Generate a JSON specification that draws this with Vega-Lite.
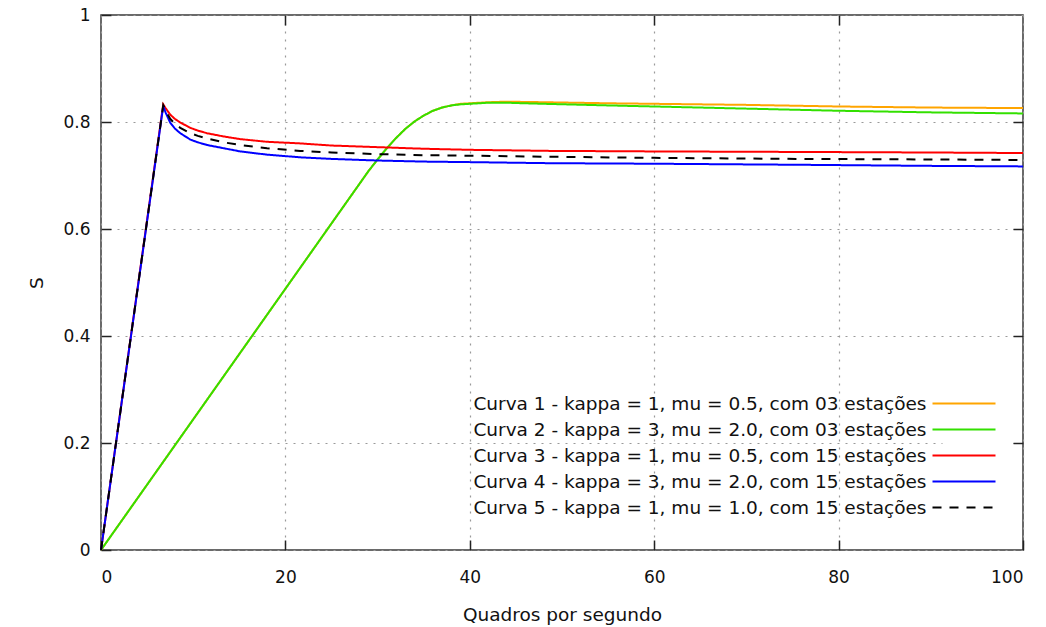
{
 "$schema": "https://vega.github.io/schema/vega-lite/v6.json",
 "width": 922,
 "height": 535,
 "autosize": {"type": "none"},
 "padding": {"left": 101, "top": 15, "right": 23, "bottom": 77},
 "background": "white",
 "config": {
  "font": "DejaVu Sans",
  "view": {"stroke": "#3a3a3a", "strokeWidth": 1.5},
  "axis": {"domain": false, "tickColor": "#222222", "tickWidth": 1.5, "tickSize": -10, "labelColor": "#111111", "titleColor": "#111111", "titleFontWeight": "normal", "labelFontSize": 17, "titleFontSize": 18.5, "gridColor": "#9a9a9a", "gridDash": [2, 6], "gridWidth": 1.2}
 },
 "data": {"values": [
  {"serie": "Curva 1 - kappa = 1, mu = 0.5, com 03 estações", "fps": 0, "S": 0},
  {"serie": "Curva 1 - kappa = 1, mu = 0.5, com 03 estações", "fps": 29, "S": 0.708},
  {"serie": "Curva 1 - kappa = 1, mu = 0.5, com 03 estações", "fps": 30, "S": 0.730},
  {"serie": "Curva 1 - kappa = 1, mu = 0.5, com 03 estações", "fps": 31, "S": 0.751},
  {"serie": "Curva 1 - kappa = 1, mu = 0.5, com 03 estações", "fps": 32, "S": 0.770},
  {"serie": "Curva 1 - kappa = 1, mu = 0.5, com 03 estações", "fps": 33, "S": 0.787},
  {"serie": "Curva 1 - kappa = 1, mu = 0.5, com 03 estações", "fps": 34, "S": 0.801},
  {"serie": "Curva 1 - kappa = 1, mu = 0.5, com 03 estações", "fps": 35, "S": 0.812},
  {"serie": "Curva 1 - kappa = 1, mu = 0.5, com 03 estações", "fps": 36, "S": 0.821},
  {"serie": "Curva 1 - kappa = 1, mu = 0.5, com 03 estações", "fps": 37, "S": 0.827},
  {"serie": "Curva 1 - kappa = 1, mu = 0.5, com 03 estações", "fps": 38, "S": 0.831},
  {"serie": "Curva 1 - kappa = 1, mu = 0.5, com 03 estações", "fps": 39, "S": 0.834},
  {"serie": "Curva 1 - kappa = 1, mu = 0.5, com 03 estações", "fps": 40, "S": 0.835},
  {"serie": "Curva 1 - kappa = 1, mu = 0.5, com 03 estações", "fps": 42, "S": 0.837},
  {"serie": "Curva 1 - kappa = 1, mu = 0.5, com 03 estações", "fps": 44, "S": 0.838},
  {"serie": "Curva 1 - kappa = 1, mu = 0.5, com 03 estações", "fps": 48, "S": 0.837},
  {"serie": "Curva 1 - kappa = 1, mu = 0.5, com 03 estações", "fps": 55, "S": 0.835},
  {"serie": "Curva 1 - kappa = 1, mu = 0.5, com 03 estações", "fps": 60, "S": 0.834},
  {"serie": "Curva 1 - kappa = 1, mu = 0.5, com 03 estações", "fps": 70, "S": 0.832},
  {"serie": "Curva 1 - kappa = 1, mu = 0.5, com 03 estações", "fps": 80, "S": 0.829},
  {"serie": "Curva 1 - kappa = 1, mu = 0.5, com 03 estações", "fps": 90, "S": 0.827},
  {"serie": "Curva 1 - kappa = 1, mu = 0.5, com 03 estações", "fps": 100, "S": 0.826},
  {"serie": "Curva 2 - kappa = 3, mu = 2.0, com 03 estações", "fps": 0, "S": 0},
  {"serie": "Curva 2 - kappa = 3, mu = 2.0, com 03 estações", "fps": 29, "S": 0.708},
  {"serie": "Curva 2 - kappa = 3, mu = 2.0, com 03 estações", "fps": 30, "S": 0.730},
  {"serie": "Curva 2 - kappa = 3, mu = 2.0, com 03 estações", "fps": 31, "S": 0.751},
  {"serie": "Curva 2 - kappa = 3, mu = 2.0, com 03 estações", "fps": 32, "S": 0.770},
  {"serie": "Curva 2 - kappa = 3, mu = 2.0, com 03 estações", "fps": 33, "S": 0.787},
  {"serie": "Curva 2 - kappa = 3, mu = 2.0, com 03 estações", "fps": 34, "S": 0.801},
  {"serie": "Curva 2 - kappa = 3, mu = 2.0, com 03 estações", "fps": 35, "S": 0.812},
  {"serie": "Curva 2 - kappa = 3, mu = 2.0, com 03 estações", "fps": 36, "S": 0.821},
  {"serie": "Curva 2 - kappa = 3, mu = 2.0, com 03 estações", "fps": 37, "S": 0.827},
  {"serie": "Curva 2 - kappa = 3, mu = 2.0, com 03 estações", "fps": 38, "S": 0.831},
  {"serie": "Curva 2 - kappa = 3, mu = 2.0, com 03 estações", "fps": 39, "S": 0.833},
  {"serie": "Curva 2 - kappa = 3, mu = 2.0, com 03 estações", "fps": 40, "S": 0.834},
  {"serie": "Curva 2 - kappa = 3, mu = 2.0, com 03 estações", "fps": 42, "S": 0.836},
  {"serie": "Curva 2 - kappa = 3, mu = 2.0, com 03 estações", "fps": 44, "S": 0.836},
  {"serie": "Curva 2 - kappa = 3, mu = 2.0, com 03 estações", "fps": 48, "S": 0.834},
  {"serie": "Curva 2 - kappa = 3, mu = 2.0, com 03 estações", "fps": 55, "S": 0.831},
  {"serie": "Curva 2 - kappa = 3, mu = 2.0, com 03 estações", "fps": 60, "S": 0.829},
  {"serie": "Curva 2 - kappa = 3, mu = 2.0, com 03 estações", "fps": 70, "S": 0.825},
  {"serie": "Curva 2 - kappa = 3, mu = 2.0, com 03 estações", "fps": 80, "S": 0.821},
  {"serie": "Curva 2 - kappa = 3, mu = 2.0, com 03 estações", "fps": 90, "S": 0.818},
  {"serie": "Curva 2 - kappa = 3, mu = 2.0, com 03 estações", "fps": 100, "S": 0.816},
  {"serie": "Curva 3 - kappa = 1, mu = 0.5, com 15 estações", "fps": 0, "S": 0},
  {"serie": "Curva 3 - kappa = 1, mu = 0.5, com 15 estações", "fps": 6.75, "S": 0.833},
  {"serie": "Curva 3 - kappa = 1, mu = 0.5, com 15 estações", "fps": 7.0, "S": 0.826},
  {"serie": "Curva 3 - kappa = 1, mu = 0.5, com 15 estações", "fps": 7.5, "S": 0.814},
  {"serie": "Curva 3 - kappa = 1, mu = 0.5, com 15 estações", "fps": 8.0, "S": 0.806},
  {"serie": "Curva 3 - kappa = 1, mu = 0.5, com 15 estações", "fps": 8.6, "S": 0.799},
  {"serie": "Curva 3 - kappa = 1, mu = 0.5, com 15 estações", "fps": 9.7, "S": 0.789},
  {"serie": "Curva 3 - kappa = 1, mu = 0.5, com 15 estações", "fps": 10.5, "S": 0.784},
  {"serie": "Curva 3 - kappa = 1, mu = 0.5, com 15 estações", "fps": 11.5, "S": 0.779},
  {"serie": "Curva 3 - kappa = 1, mu = 0.5, com 15 estações", "fps": 13.3, "S": 0.773},
  {"serie": "Curva 3 - kappa = 1, mu = 0.5, com 15 estações", "fps": 15.1, "S": 0.768},
  {"serie": "Curva 3 - kappa = 1, mu = 0.5, com 15 estações", "fps": 18, "S": 0.763},
  {"serie": "Curva 3 - kappa = 1, mu = 0.5, com 15 estações", "fps": 21.6, "S": 0.760},
  {"serie": "Curva 3 - kappa = 1, mu = 0.5, com 15 estações", "fps": 25, "S": 0.756},
  {"serie": "Curva 3 - kappa = 1, mu = 0.5, com 15 estações", "fps": 30, "S": 0.753},
  {"serie": "Curva 3 - kappa = 1, mu = 0.5, com 15 estações", "fps": 35, "S": 0.750},
  {"serie": "Curva 3 - kappa = 1, mu = 0.5, com 15 estações", "fps": 40, "S": 0.748},
  {"serie": "Curva 3 - kappa = 1, mu = 0.5, com 15 estações", "fps": 48.7, "S": 0.746},
  {"serie": "Curva 3 - kappa = 1, mu = 0.5, com 15 estações", "fps": 60, "S": 0.745},
  {"serie": "Curva 3 - kappa = 1, mu = 0.5, com 15 estações", "fps": 76, "S": 0.744},
  {"serie": "Curva 3 - kappa = 1, mu = 0.5, com 15 estações", "fps": 90, "S": 0.743},
  {"serie": "Curva 3 - kappa = 1, mu = 0.5, com 15 estações", "fps": 100, "S": 0.742},
  {"serie": "Curva 4 - kappa = 3, mu = 2.0, com 15 estações", "fps": 0, "S": 0},
  {"serie": "Curva 4 - kappa = 3, mu = 2.0, com 15 estações", "fps": 6.75, "S": 0.830},
  {"serie": "Curva 4 - kappa = 3, mu = 2.0, com 15 estações", "fps": 7.0, "S": 0.818},
  {"serie": "Curva 4 - kappa = 3, mu = 2.0, com 15 estações", "fps": 7.5, "S": 0.799},
  {"serie": "Curva 4 - kappa = 3, mu = 2.0, com 15 estações", "fps": 8.0, "S": 0.788},
  {"serie": "Curva 4 - kappa = 3, mu = 2.0, com 15 estações", "fps": 8.6, "S": 0.779},
  {"serie": "Curva 4 - kappa = 3, mu = 2.0, com 15 estações", "fps": 9.7, "S": 0.767},
  {"serie": "Curva 4 - kappa = 3, mu = 2.0, com 15 estações", "fps": 10.5, "S": 0.762},
  {"serie": "Curva 4 - kappa = 3, mu = 2.0, com 15 estações", "fps": 11.5, "S": 0.757},
  {"serie": "Curva 4 - kappa = 3, mu = 2.0, com 15 estações", "fps": 13.3, "S": 0.751},
  {"serie": "Curva 4 - kappa = 3, mu = 2.0, com 15 estações", "fps": 15.1, "S": 0.745},
  {"serie": "Curva 4 - kappa = 3, mu = 2.0, com 15 estações", "fps": 18, "S": 0.739},
  {"serie": "Curva 4 - kappa = 3, mu = 2.0, com 15 estações", "fps": 21.6, "S": 0.734},
  {"serie": "Curva 4 - kappa = 3, mu = 2.0, com 15 estações", "fps": 25, "S": 0.731},
  {"serie": "Curva 4 - kappa = 3, mu = 2.0, com 15 estações", "fps": 30, "S": 0.728},
  {"serie": "Curva 4 - kappa = 3, mu = 2.0, com 15 estações", "fps": 35, "S": 0.726},
  {"serie": "Curva 4 - kappa = 3, mu = 2.0, com 15 estações", "fps": 40, "S": 0.725},
  {"serie": "Curva 4 - kappa = 3, mu = 2.0, com 15 estações", "fps": 48.7, "S": 0.723},
  {"serie": "Curva 4 - kappa = 3, mu = 2.0, com 15 estações", "fps": 60, "S": 0.722},
  {"serie": "Curva 4 - kappa = 3, mu = 2.0, com 15 estações", "fps": 76, "S": 0.720},
  {"serie": "Curva 4 - kappa = 3, mu = 2.0, com 15 estações", "fps": 90, "S": 0.718},
  {"serie": "Curva 4 - kappa = 3, mu = 2.0, com 15 estações", "fps": 100, "S": 0.717},
  {"serie": "Curva 5 - kappa = 1, mu = 1.0, com 15 estações", "fps": 0, "S": 0},
  {"serie": "Curva 5 - kappa = 1, mu = 1.0, com 15 estações", "fps": 6.75, "S": 0.831},
  {"serie": "Curva 5 - kappa = 1, mu = 1.0, com 15 estações", "fps": 7.0, "S": 0.822},
  {"serie": "Curva 5 - kappa = 1, mu = 1.0, com 15 estações", "fps": 7.5, "S": 0.806},
  {"serie": "Curva 5 - kappa = 1, mu = 1.0, com 15 estações", "fps": 8.0, "S": 0.797},
  {"serie": "Curva 5 - kappa = 1, mu = 1.0, com 15 estações", "fps": 8.6, "S": 0.789},
  {"serie": "Curva 5 - kappa = 1, mu = 1.0, com 15 estações", "fps": 9.7, "S": 0.779},
  {"serie": "Curva 5 - kappa = 1, mu = 1.0, com 15 estações", "fps": 10.5, "S": 0.774},
  {"serie": "Curva 5 - kappa = 1, mu = 1.0, com 15 estações", "fps": 11.5, "S": 0.769},
  {"serie": "Curva 5 - kappa = 1, mu = 1.0, com 15 estações", "fps": 13.3, "S": 0.762},
  {"serie": "Curva 5 - kappa = 1, mu = 1.0, com 15 estações", "fps": 15.1, "S": 0.757},
  {"serie": "Curva 5 - kappa = 1, mu = 1.0, com 15 estações", "fps": 18, "S": 0.751},
  {"serie": "Curva 5 - kappa = 1, mu = 1.0, com 15 estações", "fps": 21.6, "S": 0.746},
  {"serie": "Curva 5 - kappa = 1, mu = 1.0, com 15 estações", "fps": 25, "S": 0.743},
  {"serie": "Curva 5 - kappa = 1, mu = 1.0, com 15 estações", "fps": 30, "S": 0.740},
  {"serie": "Curva 5 - kappa = 1, mu = 1.0, com 15 estações", "fps": 35, "S": 0.738},
  {"serie": "Curva 5 - kappa = 1, mu = 1.0, com 15 estações", "fps": 40, "S": 0.737},
  {"serie": "Curva 5 - kappa = 1, mu = 1.0, com 15 estações", "fps": 48.7, "S": 0.735},
  {"serie": "Curva 5 - kappa = 1, mu = 1.0, com 15 estações", "fps": 60, "S": 0.733},
  {"serie": "Curva 5 - kappa = 1, mu = 1.0, com 15 estações", "fps": 76, "S": 0.731},
  {"serie": "Curva 5 - kappa = 1, mu = 1.0, com 15 estações", "fps": 90, "S": 0.730},
  {"serie": "Curva 5 - kappa = 1, mu = 1.0, com 15 estações", "fps": 100, "S": 0.729}
 ]},
 "resolve": {"axis": {"x": "independent", "y": "independent"}},
 "layer": [
  {
   "mark": {"type": "line", "strokeWidth": 2},
   "encoding": {
    "x": {"field": "fps", "type": "quantitative", "scale": {"domain": [0, 100], "nice": false, "zero": false},
          "axis": {"orient": "bottom", "title": "Quadros por segundo", "values": [0, 20, 40, 60, 80, 100], "grid": true, "labelPadding": 29, "titlePadding": 20}},
    "y": {"field": "S", "type": "quantitative", "scale": {"domain": [0, 1], "nice": false},
          "axis": {"orient": "left", "title": "S", "values": [0, 0.2, 0.4, 0.6, 0.8, 1], "format": "~g", "grid": true, "labelPadding": 21, "titlePadding": 16}},
    "color": {"field": "serie", "type": "nominal", "title": null,
              "scale": {"domain": ["Curva 1 - kappa = 1, mu = 0.5, com 03 estações", "Curva 2 - kappa = 3, mu = 2.0, com 03 estações", "Curva 3 - kappa = 1, mu = 0.5, com 15 estações", "Curva 4 - kappa = 3, mu = 2.0, com 15 estações", "Curva 5 - kappa = 1, mu = 1.0, com 15 estações"],
                        "range": ["#ffa500", "#33e000", "#ff0000", "#0000ff", "#000000"]},
              "legend": {"orient": "none", "legendX": 841.5, "legendY": 367, "labelAlign": "right", "labelOffset": -49, "symbolType": "M-3,0H3", "symbolSize": 441, "symbolStrokeWidth": 2, "rowPadding": 5, "labelFontSize": 18.5, "labelColor": "#111111", "labelLimit": 700, "fillColor": "white", "padding": 10}},
    "strokeDash": {"field": "serie", "type": "nominal", "title": null,
              "scale": {"domain": ["Curva 1 - kappa = 1, mu = 0.5, com 03 estações", "Curva 2 - kappa = 3, mu = 2.0, com 03 estações", "Curva 3 - kappa = 1, mu = 0.5, com 15 estações", "Curva 4 - kappa = 3, mu = 2.0, com 15 estações", "Curva 5 - kappa = 1, mu = 1.0, com 15 estações"],
                        "range": [[1, 0], [1, 0], [1, 0], [1, 0], [9, 8]]}}
   }
  },
  {
   "mark": {"type": "line", "opacity": 0},
   "encoding": {
    "x": {"field": "fps", "type": "quantitative", "axis": {"orient": "top", "labels": false, "title": null, "values": [20, 40, 60, 80], "grid": false}},
    "y": {"field": "S", "type": "quantitative", "axis": {"orient": "right", "labels": false, "title": null, "values": [0.2, 0.4, 0.6, 0.8], "grid": false}}
   }
  }
 ]
}
